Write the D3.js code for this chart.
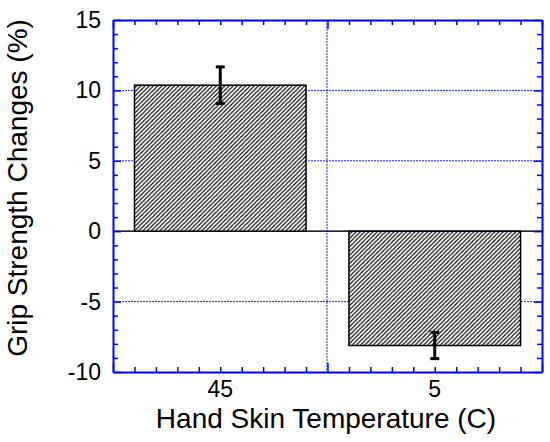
<!DOCTYPE html>
<html><head><meta charset="utf-8">
<script src="https://cdn.jsdelivr.net/npm/d3@7"></script>
<style>body{margin:0;background:#fff}svg{display:block}text{font-family:"Liberation Sans",Arial,sans-serif;fill:#000}</style>
</head><body><svg id="c" width="550" height="442"></svg>
<script>
const categories = ["45", "5"];
const values = [10.37, -8.12];
const errors = [1.3, 0.93];
const yTicks = [-10, -5, 0, 5, 10, 15];
const yGrid = [-5, 0, 5, 10];
const xTitle = "Hand Skin Temperature (C)";
const yTitle = "Grip Strength Changes (%)";

const L = 113, R = 542, T = 20, B = 372;
const svg = d3.select("#c");
const y = d3.scaleLinear().domain([-10, 15]).range([B, T]);
const xl = d3.scaleLinear().domain([0, 20]).range([L, R]);
const xb = d3.scaleBand().domain(categories).range([L, R]).paddingInner(0.2).paddingOuter(0.1);
const blue = "#0000ff";

const P = 4.2;
const defs = svg.append("defs");
const pat = defs.append("pattern").attr("id", "hatch").attr("patternUnits", "userSpaceOnUse")
  .attr("width", P).attr("height", P);
pat.append("rect").attr("width", P).attr("height", P).attr("fill", "#fff");
pat.append("path").attr("d", `M${-P/4},${P/4} l${P/2},${-P/2} M0,${P} l${P},${-P} M${P*0.75},${P*1.25} l${P/2},${-P/2}`)
  .attr("stroke", "#000").attr("stroke-width", 1.1);

// grid
svg.append("g").selectAll("line").data(yGrid).join("line")
  .attr("x1", L).attr("x2", R).attr("y1", d => y(d)).attr("y2", d => y(d))
  .attr("stroke", "#2020ff").attr("stroke-width", 1).attr("stroke-dasharray", "2,1");
svg.append("line").attr("x1", xl(10) - 0.5).attr("x2", xl(10) - 0.5).attr("y1", T).attr("y2", B)
  .attr("stroke", "#2020ff").attr("stroke-width", 1).attr("stroke-dasharray", "2,1");

// zero line
svg.append("line").attr("x1", L).attr("x2", R).attr("y1", y(0)).attr("y2", y(0))
  .attr("stroke", "#000").attr("stroke-width", 1.2);

// bars
svg.append("g").selectAll("rect").data(categories).join("rect")
  .attr("x", d => xb(d))
  .attr("width", xb.bandwidth())
  .attr("y", (d, i) => y(Math.max(0, values[i])))
  .attr("height", (d, i) => Math.abs(y(values[i]) - y(0)))
  .attr("fill", "url(#hatch)").attr("stroke", "#000").attr("stroke-width", 1.5);

// error bars
const eg = svg.append("g").attr("stroke", "#000").attr("stroke-width", 3);
categories.forEach((c, i) => {
  const cx = xb(c) + xb.bandwidth() / 2;
  const lo = y(values[i] - errors[i]), hi = y(values[i] + errors[i]);
  eg.append("line").attr("x1", cx).attr("x2", cx).attr("y1", lo).attr("y2", hi);
  eg.append("line").attr("x1", cx - 4.5).attr("x2", cx + 4.5).attr("y1", lo).attr("y2", lo);
  eg.append("line").attr("x1", cx - 4.5).attr("x2", cx + 4.5).attr("y1", hi).attr("y2", hi);
});

// axes frame with inward ticks
const axL = d3.axisRight(y).ticks(25).tickSizeInner(5).tickSizeOuter(0).tickFormat("");
const axR = d3.axisLeft(y).ticks(25).tickSizeInner(5).tickSizeOuter(0).tickFormat("");
const axB = d3.axisTop(xl).ticks(20).tickSizeInner(5).tickSizeOuter(0).tickFormat("");
const axT = d3.axisBottom(xl).ticks(20).tickSizeInner(5).tickSizeOuter(0).tickFormat("");
function style(g) {
  g.select(".domain").attr("stroke", blue).attr("stroke-width", 2);
  g.selectAll(".tick line").attr("stroke", blue).attr("stroke-width", 1.5);
}
const gL = svg.append("g").attr("transform", `translate(${L},0)`).call(axL).call(style);
const gR = svg.append("g").attr("transform", `translate(${R},0)`).call(axR).call(style);
const gB = svg.append("g").attr("transform", `translate(0,${B})`).call(axB).call(style);
const gT = svg.append("g").attr("transform", `translate(0,${T})`).call(axT).call(style);
[gL, gR].forEach(g => g.selectAll(".tick line").filter(d => d % 5 === 0).attr("x2", function(){ return +d3.select(this).attr("x2") * 1.6; }));
[gB, gT].forEach(g => g.selectAll(".tick line").filter(d => d % 10 === 0).attr("y2", function(){ return +d3.select(this).attr("y2") * 1.8; }));

// tick labels
svg.append("g").selectAll("text").data(yTicks).join("text")
  .attr("x", 101).attr("y", d => y(d) + 8).attr("text-anchor", "end")
  .attr("font-size", 23).text(d => d);
svg.append("g").selectAll("text").data(categories).join("text")
  .attr("x", d => xb(d) + xb.bandwidth() / 2).attr("y", 397).attr("text-anchor", "middle")
  .attr("font-size", 23).text(d => d);

// titles
svg.append("text").attr("x", 326).attr("y", 427.5).attr("text-anchor", "middle")
  .attr("font-size", 28).text(xTitle);
svg.append("text").attr("transform", `translate(27,188) rotate(-90)`)
  .attr("text-anchor", "middle").attr("font-size", 28).text(yTitle);
</script></body></html>
